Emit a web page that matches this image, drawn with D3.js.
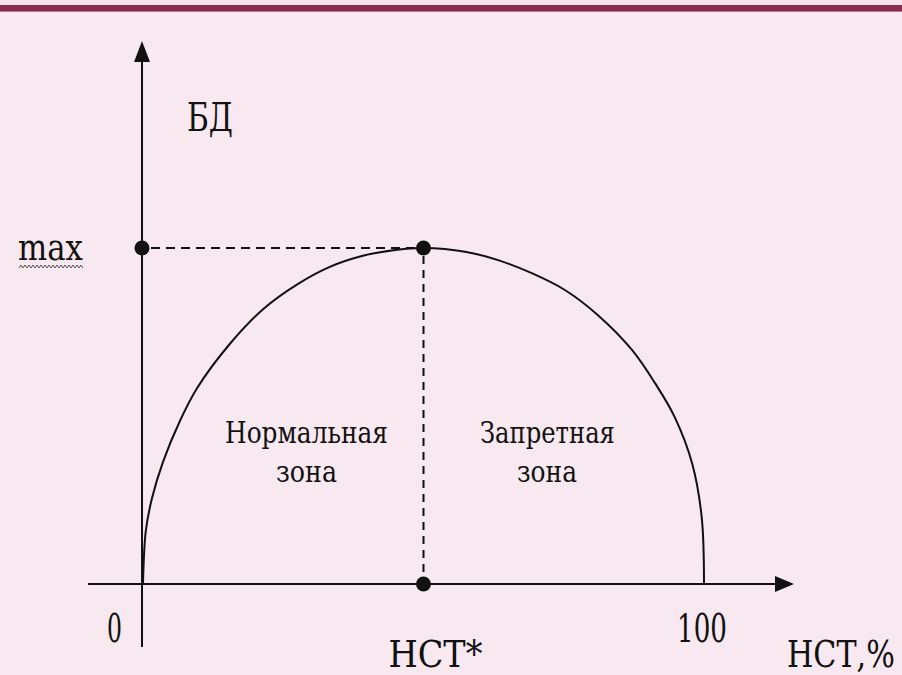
<!DOCTYPE html>
<html>
<head>
<meta charset="utf-8">
<script src="https://cdn.jsdelivr.net/npm/d3@7"></script>
<style>
    html, body { margin: 0; padding: 0; background: #f8e8ef; }
    svg { display: block; }
</style>
</head>
<body>
<script>
/*global d3*/

// НСТ, % along the curve
var hctValues = [0, 0.5, 1.6, 3.6, 6.6, 9.6, 15.5, 21.4, 27.5, 33.3, 39.2, 45.3, 50,
                 57.4, 63.3, 69.3, 75.2, 81.1, 87.2, 91.3, 94.8, 97.9, 99.6, 100];

// БД, % of max
var bdValues = [0, 15.8, 25.5, 36.5, 48.6, 58.2, 71.5, 81.8, 89.2, 94.4, 97.7, 99.5, 100,
                98.9, 96.4, 92.5, 87.5, 80, 69.6, 59.7, 49.6, 35.8, 19.7, 0];

// marked points: [НСТ, БД]
var markX = [0, 50, 50];
var markY = [100, 100, 0];

var hctStar = 50,
    bdMax = 100;

var xTickLabels = ["0", "100"];
var zoneLabels = [["Нормальная", "зона"], ["Запретная", "зона"]];

var FONT = "'DejaVu Serif', 'Liberation Serif', serif";

window.onload = function () {
    var width = 902,
        height = 675;

    var svg = d3.select("body").append("svg")
        .attr("width", width)
        .attr("height", height);

    var x = d3.scaleLinear().domain([0, 100]).range([143, 704]),
        y = d3.scaleLinear().domain([0, 100]).range([584, 248]);

    /** top stripe **/
    svg.append("rect")
        .attr("x", 0).attr("y", 0)
        .attr("width", width).attr("height", 5)
        .attr("fill", "#f3e4ea");
    svg.append("rect")
        .attr("x", 0).attr("y", 5)
        .attr("width", width).attr("height", 6)
        .attr("fill", "#8a2c4e");
    svg.append("rect")
        .attr("x", 0).attr("y", 11)
        .attr("width", width).attr("height", 1)
        .attr("fill", "#b7748f");

    var x0 = x(0) - 1,
        y0 = y(0);

    /** axes **/
    svg.append("line")
        .attr("x1", x0).attr("y1", 647)
        .attr("x2", x0).attr("y2", 58)
        .attr("stroke", "#111").attr("stroke-width", 2);
    svg.append("path")
        .attr("d", "M" + x0 + ",41 L" + (x0 - 8) + ",62 L" + (x0 + 8) + ",62 Z")
        .attr("fill", "#111");

    svg.append("line")
        .attr("x1", 88).attr("y1", y0)
        .attr("x2", 778).attr("y2", y0)
        .attr("stroke", "#111").attr("stroke-width", 2);
    svg.append("path")
        .attr("d", "M794," + y0 + " L775," + (y0 - 8) + " L775," + (y0 + 8) + " Z")
        .attr("fill", "#111");

    /** dashed guides **/
    svg.append("line")
        .attr("x1", x(0) + 8).attr("y1", y(bdMax))
        .attr("x2", x(hctStar) - 8).attr("y2", y(bdMax))
        .attr("stroke", "#111").attr("stroke-width", 2)
        .attr("stroke-dasharray", "9,6");
    svg.append("line")
        .attr("x1", x(hctStar)).attr("y1", y(bdMax) + 8)
        .attr("x2", x(hctStar)).attr("y2", y(0) - 8)
        .attr("stroke", "#111").attr("stroke-width", 2)
        .attr("stroke-dasharray", "8,6");

    /** curve **/
    var pts = hctValues.map(function (h, i) { return [h, bdValues[i]]; });
    var line = d3.line()
        .x(function (d) { return x(d[0]); })
        .y(function (d) { return y(d[1]); })
        .curve(d3.curveCatmullRom.alpha(0.5));
    svg.append("path")
        .datum(pts)
        .attr("d", line)
        .attr("fill", "none")
        .attr("stroke", "#111")
        .attr("stroke-width", 2);

    /** points **/
    svg.selectAll("circle.mark")
        .data(markX)
        .enter().append("circle")
        .attr("class", "mark")
        .attr("cx", function (d, i) { return i === 0 ? x0 : x(d); })
        .attr("cy", function (d, i) { return y(markY[i]); })
        .attr("r", 7.5)
        .attr("fill", "#111");

    /**
     * Text squeezed horizontally to a given width
     * (the original font is narrow and tall)
     */
    var text = function (str, tx, ty, size, len) {
        var g = svg.append("g"),
            t = g.append("text")
                .attr("x", 0).attr("y", 0)
                .attr("font-family", FONT)
                .attr("font-size", size)
                .attr("fill", "#111")
                .text(str);
        var k = len / t.node().getComputedTextLength();
        g.attr("transform", "translate(" + tx + "," + ty + ") scale(" + k + ",1)");
        return t;
    };

    text("БД", 187, 131, 39, 46);
    text("max", 18, 260, 35, 65);
    text(xTickLabels[0], x(0) - 36, 642, 39, 15);
    text(xTickLabels[1], x(100) - 27, 642, 39, 50);
    text("НСТ*", x(hctStar) - 35, 667, 37, 94);
    text("НСТ,%", 787, 667, 37, 108);

    text(zoneLabels[0][0], 225, 443, 29, 163);
    text(zoneLabels[0][1], 276, 482, 29, 61);
    text(zoneLabels[1][0], 480, 443, 29, 135);
    text(zoneLabels[1][1], 517, 482, 29, 60);

    /** wavy spell-check underline under "max" **/
    var wave = [];
    for (var wx = 19; wx <= 83; wx += 2) {
        wave.push([wx, (wx % 4 === 1) ? 265 : 268]);
    }
    svg.append("path")
        .attr("d", d3.line()(wave))
        .attr("fill", "none")
        .attr("stroke", "#555")
        .attr("stroke-width", 1);
};
</script>
</body>
</html>
